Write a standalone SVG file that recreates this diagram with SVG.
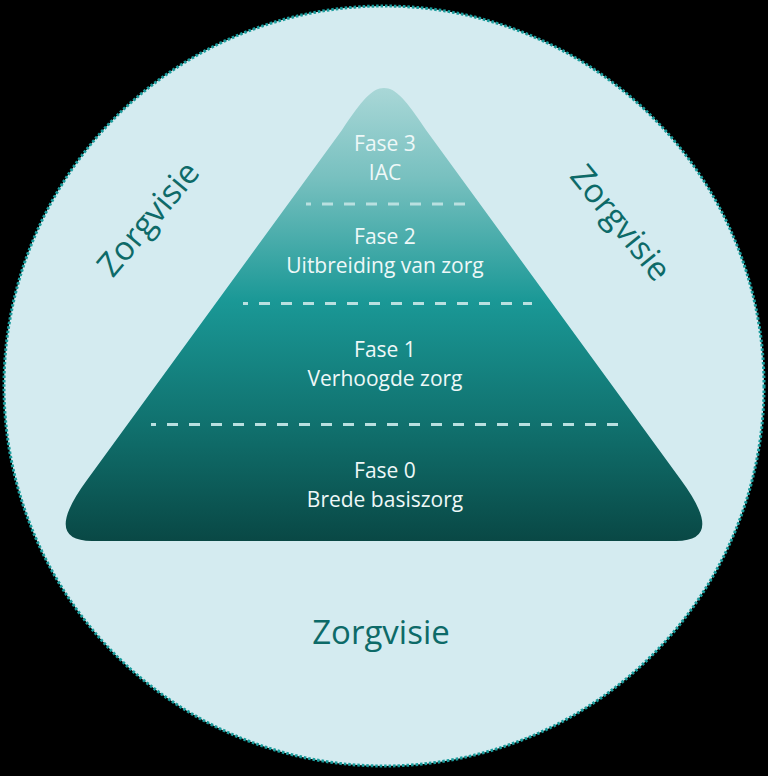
<svg xmlns="http://www.w3.org/2000/svg" width="768" height="776" viewBox="0 0 768 776">
  <defs>
    <linearGradient id="pyr" x1="0" y1="88" x2="0" y2="541" gradientUnits="userSpaceOnUse">
      <stop offset="0" stop-color="#a9d7d7"/>
      <stop offset="0.2" stop-color="#77c0bf"/>
      <stop offset="0.47" stop-color="#1a9896"/>
      <stop offset="0.75" stop-color="#10706d"/>
      <stop offset="1" stop-color="#094845"/>
    </linearGradient>
    <style>
      .lbl { font-family: "Open Sans", "Liberation Sans", sans-serif; font-size: 21px; fill: #eef8f8; text-anchor: middle; }
      .vis { font-family: "Open Sans", "Liberation Sans", sans-serif; font-size: 33px; fill: #0d6a68; text-anchor: middle; }
      .sep { stroke: #b9e0e0; stroke-width: 3; stroke-dasharray: 11 11; fill: none; }
    </style>
  </defs>
  <rect x="0" y="0" width="768" height="776" fill="#000000"/>
  <g id="circle">
    <circle cx="384" cy="386" r="380" fill="#d4ebf0" stroke="#1a9d9d" stroke-width="3" stroke-dasharray="2.5 2"/>
  </g>
  <g id="pyramid">
    <path d="M342,130 C362,100 372,88 384,88 C396,88 406,100 426,130 L681,480 Q726,541 676,541 L92,541 Q42,541 87,480 Z" fill="url(#pyr)"/>
  </g>
  <g id="connectors">
    <line class="sep" x1="306" y1="204" x2="468" y2="204" stroke-dashoffset="6"/>
    <line class="sep" x1="243" y1="303.5" x2="532" y2="303.5" stroke-dashoffset="6"/>
    <line class="sep" x1="151" y1="424.5" x2="620" y2="424.5" stroke-dashoffset="6"/>
  </g>
  <g id="fase3">
    <text class="lbl" x="385" y="150.5">Fase 3</text>
    <text class="lbl" x="385" y="179.5">IAC</text>
  </g>
  <g id="fase2">
    <text class="lbl" x="385" y="244">Fase 2</text>
    <text class="lbl" x="385" y="273">Uitbreiding van zorg</text>
  </g>
  <g id="fase1">
    <text class="lbl" x="385" y="357">Fase 1</text>
    <text class="lbl" x="385" y="386">Verhoogde zorg</text>
  </g>
  <g id="fase0">
    <text class="lbl" x="385" y="478">Fase 0</text>
    <text class="lbl" x="385" y="507">Brede basiszorg</text>
  </g>
  <g id="zorgvisie-left">
    <text class="vis" transform="translate(157,226) rotate(-50)">Zorgvisie</text>
  </g>
  <g id="zorgvisie-right">
    <text class="vis" transform="translate(612,230) rotate(51)">Zorgvisie</text>
  </g>
  <g id="zorgvisie-bottom">
    <text class="vis" x="381" y="644">Zorgvisie</text>
  </g>
</svg>
